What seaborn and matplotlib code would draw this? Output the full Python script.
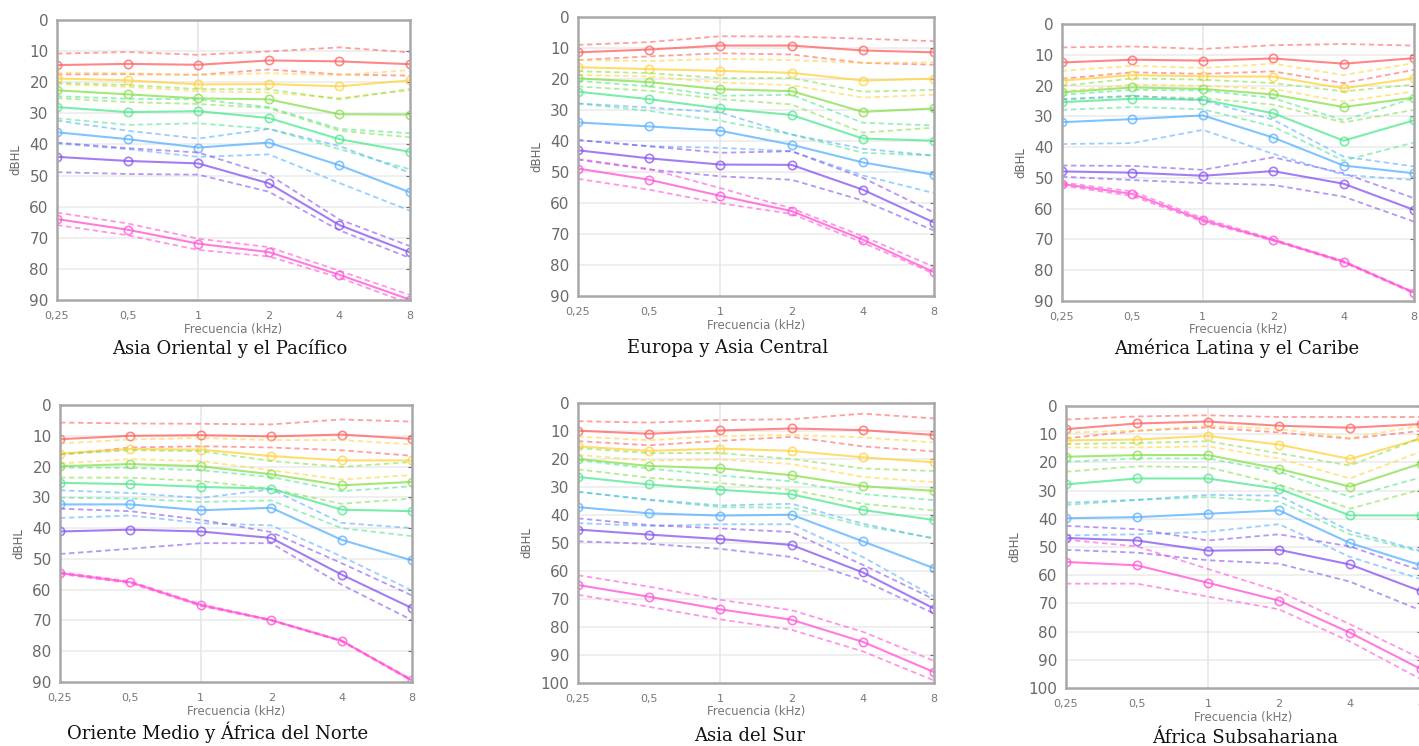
import numpy as np
import pandas as pd
import seaborn as sns
from matplotlib import pyplot as plt

freqs = [0.25, 0.5, 1, 2, 4, 8]
freq_labels = ['0,25', '0,5', '1', '2', '4', '8']
colors = ['#ff5f5f', '#ffd23c', '#86e04a', '#4ee88e', '#56b0ff', '#8650f0', '#ff4fd6']

# Asia Oriental y el Pacífico
eap_mean = [[14.5, 14.1, 14.4, 13.0, 13.3, 14.2],
            [18.8, 19.4, 20.7, 20.6, 21.3, 19.4],
            [22.6, 23.9, 25.2, 25.5, 30.3, 30.4],
            [28.0, 29.6, 29.3, 31.5, 38.3, 42.4],
            [36.1, 38.3, 41.0, 39.4, 46.7, 55.4],
            [44.0, 45.3, 46.1, 52.5, 65.9, 74.7],
            [64.0, 67.4, 71.9, 74.6, 81.9, 89.9]]
eap_hi = [[10.8, 10.3, 11.2, 10.1, 8.8, 10.4],
          [16.9, 17.1, 17.7, 17.1, 17.7, 16.1],
          [20.2, 20.9, 22.2, 22.3, 25.5, 22.2],
          [24.5, 25.3, 25.5, 28.0, 35.0, 36.4],
          [32.3, 35.6, 38.1, 35.0, 40.5, 49.1],
          [39.4, 41.2, 42.6, 49.7, 64.1, 72.7],
          [61.9, 65.4, 70.3, 73.0, 80.6, 88.4]]
eap_lo = [[17.5, 17.4, 17.6, 15.9, 17.5, 17.9],
          [20.6, 21.5, 22.9, 23.3, 25.1, 22.6],
          [25.1, 26.4, 27.0, 28.3, 35.6, 37.7],
          [31.6, 33.7, 33.2, 35.0, 41.5, 48.0],
          [39.7, 41.5, 44.0, 43.2, 52.4, 61.3],
          [48.9, 49.5, 49.7, 55.2, 67.6, 76.5],
          [65.9, 69.2, 73.9, 76.0, 82.8, 91.2]]

# Europa y Asia Central
eca_mean = [[11.4, 10.5, 9.2, 9.2, 10.8, 11.4],
            [16.2, 16.8, 17.4, 18.0, 20.5, 19.9],
            [19.8, 21.0, 23.3, 23.9, 30.6, 29.5],
            [24.1, 26.5, 29.5, 31.6, 39.2, 39.9],
            [34.0, 35.3, 36.7, 41.2, 46.9, 50.9],
            [43.0, 45.6, 47.6, 47.7, 55.7, 66.3],
            [48.9, 52.5, 57.7, 62.6, 71.8, 82.3]]
eca_hi = [[9.0, 8.1, 6.2, 6.3, 7.0, 7.8],
          [13.9, 14.2, 13.5, 13.9, 14.8, 14.6],
          [17.5, 18.1, 19.7, 19.7, 24.1, 23.5],
          [20.6, 22.4, 25.4, 25.1, 34.1, 35.0],
          [27.9, 29.2, 30.8, 37.9, 42.5, 44.7],
          [39.7, 41.7, 43.8, 43.3, 51.9, 63.1],
          [45.8, 49.0, 55.2, 61.7, 70.7, 80.6]]
eca_lo = [[13.9, 12.7, 11.7, 12.1, 14.8, 15.4],
          [18.7, 19.2, 21.1, 22.0, 26.0, 25.1],
          [22.4, 23.8, 26.5, 28.2, 37.3, 35.7],
          [27.9, 30.3, 33.5, 37.9, 43.8, 44.7],
          [39.7, 41.7, 42.2, 43.3, 51.1, 56.8],
          [46.0, 49.2, 51.4, 52.5, 59.2, 68.9],
          [52.2, 55.7, 60.1, 63.5, 72.8, 82.8]]

# América Latina y el Caribe
lac_mean = [[12.5, 11.6, 11.9, 11.2, 12.9, 11.1],
            [18.4, 16.6, 17.0, 17.1, 20.9, 17.6],
            [22.2, 20.6, 21.1, 22.9, 27.0, 23.9],
            [25.4, 24.3, 24.6, 29.0, 37.9, 31.3],
            [31.9, 30.9, 29.7, 36.9, 46.0, 48.5],
            [47.9, 48.3, 49.3, 47.8, 51.9, 60.4],
            [52.0, 55.2, 63.7, 70.2, 77.2, 87.3]]
lac_hi = [[7.6, 7.3, 8.1, 6.9, 6.5, 7.0],
          [15.2, 13.6, 14.3, 12.9, 16.6, 12.7],
          [20.1, 17.7, 18.1, 19.2, 21.9, 19.7],
          [23.0, 21.4, 21.6, 24.1, 31.3, 24.1],
          [24.4, 23.3, 24.8, 31.1, 43.1, 46.3],
          [46.0, 46.1, 47.4, 43.3, 48.5, 56.6],
          [51.5, 54.4, 63.1, 69.9, 77.0, 87.1]]
lac_lo = [[17.8, 15.7, 16.2, 15.4, 19.2, 14.9],
          [21.9, 19.7, 20.1, 21.1, 25.2, 21.9],
          [24.6, 23.5, 24.1, 26.2, 32.0, 27.9],
          [27.9, 27.0, 27.7, 33.3, 44.4, 38.5],
          [39.0, 38.7, 34.4, 42.2, 49.0, 50.7],
          [49.6, 50.7, 51.7, 52.3, 56.1, 64.2],
          [52.5, 55.9, 64.2, 70.4, 77.5, 87.5]]

# Oriente Medio y África del Norte
mena_mean = [[11.1, 10.0, 9.8, 10.2, 9.6, 11.0],
             [15.8, 14.3, 14.5, 16.6, 18.0, 18.0],
             [19.9, 19.2, 19.9, 22.5, 26.1, 25.0],
             [25.3, 25.7, 26.6, 27.2, 34.0, 34.5],
             [32.3, 32.3, 34.2, 33.4, 43.8, 50.5],
             [41.1, 40.5, 41.1, 43.2, 55.1, 66.0],
             [54.6, 57.6, 65.0, 69.9, 76.6, 89.5]]
mena_hi = [[5.7, 6.0, 6.1, 6.3, 4.7, 5.4],
           [12.5, 11.2, 10.7, 11.4, 11.4, 12.8],
           [16.0, 14.7, 15.0, 18.2, 20.1, 18.5],
           [20.3, 20.4, 21.2, 23.4, 28.0, 26.4],
           [27.7, 28.6, 30.2, 27.4, 38.3, 40.0],
           [33.7, 34.5, 37.3, 41.3, 51.4, 61.9],
           [54.3, 57.3, 64.7, 69.8, 76.5, 89.2]]
mena_lo = [[16.1, 13.8, 13.4, 13.8, 14.7, 16.5],
           [19.0, 17.6, 18.2, 21.2, 24.2, 22.8],
           [23.6, 23.6, 24.7, 27.2, 32.1, 30.4],
           [30.1, 30.4, 31.5, 31.0, 40.0, 42.6],
           [36.7, 35.9, 38.4, 39.1, 49.2, 60.3],
           [48.4, 46.7, 44.9, 44.9, 58.4, 69.9],
           [54.9, 57.9, 65.3, 70.1, 76.8, 89.7]]

# Asia del Sur
sa_mean = [[9.9, 11.0, 9.8, 9.1, 9.7, 11.4],
           [15.5, 17.1, 16.3, 17.1, 19.4, 21.2],
           [20.0, 22.5, 23.3, 25.8, 29.7, 31.4],
           [26.4, 29.1, 31.0, 32.6, 38.2, 41.8],
           [37.2, 39.4, 40.2, 39.9, 49.4, 59.0],
           [45.2, 47.0, 48.6, 50.7, 60.5, 73.4],
           [65.0, 69.2, 73.7, 77.4, 85.3, 96.1]]
sa_hi = [[6.5, 7.0, 6.1, 5.8, 3.8, 5.5],
         [12.0, 13.3, 11.8, 11.4, 12.3, 14.1],
         [16.1, 17.9, 17.9, 20.0, 23.4, 24.3],
         [20.4, 23.4, 25.9, 28.0, 32.5, 34.7],
         [31.7, 34.5, 36.6, 36.0, 43.1, 48.5],
         [41.2, 43.6, 44.8, 46.1, 57.8, 70.1],
         [61.5, 65.6, 70.3, 74.0, 81.7, 92.1]]
sa_lo = [[13.6, 15.1, 13.5, 12.1, 15.5, 17.3],
         [18.5, 20.6, 20.2, 21.8, 26.4, 28.3],
         [23.7, 26.7, 28.6, 31.0, 36.0, 38.4],
         [31.7, 34.7, 37.2, 37.4, 43.9, 48.2],
         [42.9, 43.9, 43.3, 43.3, 55.0, 69.1],
         [49.4, 50.3, 52.1, 55.0, 63.3, 75.2],
         [68.5, 72.8, 77.3, 81.0, 88.7, 99.1]]

# África Subsahariana
ssa_mean = [[8.2, 6.2, 5.5, 7.0, 7.7, 6.4],
            [12.2, 11.9, 10.6, 13.7, 18.8, 11.5],
            [18.0, 17.4, 17.4, 22.3, 28.6, 20.4],
            [27.8, 25.7, 25.7, 29.4, 38.8, 38.8],
            [39.8, 39.4, 38.2, 37.0, 48.6, 56.5],
            [46.8, 47.7, 51.3, 51.0, 56.2, 65.7],
            [55.3, 56.5, 62.7, 69.0, 80.4, 93.3]]
ssa_hi = [[4.8, 3.7, 3.3, 3.9, 3.9, 3.9],
          [9.4, 8.8, 7.0, 8.2, 11.3, 7.0],
          [13.5, 13.1, 12.5, 16.8, 21.1, 11.3],
          [19.8, 18.6, 18.6, 23.3, 32.3, 25.3],
          [34.3, 33.3, 31.5, 31.8, 44.3, 51.4],
          [42.5, 43.7, 47.7, 45.5, 49.8, 58.4],
          [47.4, 49.8, 57.8, 65.7, 77.4, 89.6]]
ssa_lo = [[11.5, 8.8, 7.6, 9.4, 11.6, 8.8],
          [14.7, 14.7, 14.3, 18.6, 25.7, 16.2],
          [23.3, 21.4, 21.7, 27.8, 36.4, 29.6],
          [35.1, 33.3, 32.3, 33.9, 45.5, 51.7],
          [45.9, 45.5, 44.6, 41.9, 53.5, 61.4],
          [51.0, 52.0, 54.7, 55.9, 62.3, 72.5],
          [63.0, 63.0, 67.6, 72.1, 83.5, 96.9]]

titles = ['Asia Oriental y el Pacífico', 'Europa y Asia Central', 'América Latina y el Caribe',
          'Oriente Medio y África del Norte', 'Asia del Sur', 'África Subsahariana']
panels = [(eap_mean, eap_hi, eap_lo), (eca_mean, eca_hi, eca_lo), (lac_mean, lac_hi, lac_lo),
          (mena_mean, mena_hi, mena_lo), (sa_mean, sa_hi, sa_lo), (ssa_mean, ssa_hi, ssa_lo)]
ymax = [90, 90, 90, 90, 100, 100]

# axes boxes in pixels: left, right, top, bottom ; caption centre x, y
boxes = [(57, 410, 20, 300), (578, 934, 17, 296), (1062, 1414, 24, 301),
         (60, 412, 405, 682), (578, 934, 403, 683), (1066, 1421, 406, 688)]
captions = [(230, 348), (728, 348), (1237, 348), (218, 732), (750, 736), (1245, 738)]

W, H = 1419, 746
sns.set_style('white')
fig = plt.figure(figsize=(W / 100, H / 100), dpi=100)

for i, (mean, hi, lo) in enumerate(panels):
    l, r, t, b = boxes[i]
    ax = fig.add_axes([l / W, 1 - b / H, (r - l) / W, (b - t) / H])
    ax.set_xscale('log', base=2)
    for yv in range(10, ymax[i], 10):
        ax.axhline(yv, color='#ececec', lw=1.2, zorder=0)
    ax.axvline(1, color='#e6e6e6', lw=1.2, zorder=0)
    for k in range(7):
        df = pd.DataFrame({'f': freqs, 'm': mean[k], 'h': hi[k], 'lo': lo[k]})
        for col in ['h', 'lo']:
            sns.lineplot(data=df, x='f', y=col, ax=ax, color=colors[k], lw=1.3,
                         linestyle=(0, (3, 2)), alpha=0.6)
        sns.lineplot(data=df, x='f', y='m', ax=ax, color=colors[k], lw=1.5, alpha=0.75,
                     marker='o', markersize=6, markerfacecolor='none',
                     markeredgecolor=colors[k], markeredgewidth=1.2)
    ax.set_xlim(0.25, 8)
    ax.set_ylim(ymax[i], 0)
    ax.set_yticks(range(0, ymax[i] + 1, 10))
    ax.set_xticks(freqs)
    ax.set_xticklabels(freq_labels)
    ax.minorticks_off()
    ax.tick_params(axis='y', labelsize=11, colors='#6a6a6a', length=3, direction='in',
                   right=True, pad=6)
    ax.tick_params(axis='x', labelsize=8, colors='#777777', length=0, pad=8)
    for s in ax.spines.values():
        s.set_color('#a8a8a8')
        s.set_linewidth(1.8)
    ax.set_xlabel('Frecuencia (kHz)', fontsize=8.5, color='#777777', labelpad=1)
    ax.set_ylabel('dBHL', fontsize=8.5, color='#666666', labelpad=5)
    cx, cy = captions[i]
    fig.text(cx / W, 1 - cy / H, titles[i], ha='center', va='center',
             fontsize=13, family='DejaVu Serif', color='#111111')

fig.savefig('out.png', dpi=100)
